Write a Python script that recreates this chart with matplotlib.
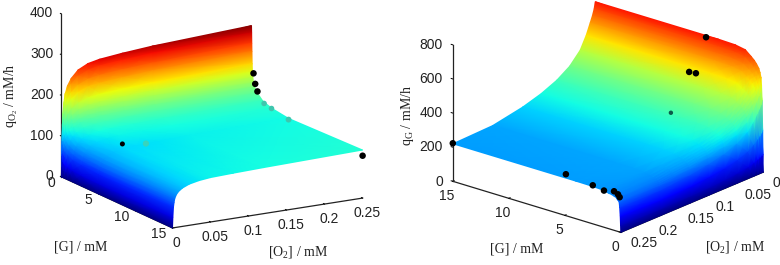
import numpy as np
import matplotlib
matplotlib.use("Agg")
from matplotlib import pyplot as plt
from mpl_toolkits.mplot3d import proj3d

plt.rcParams['font.family'] = ['Liberation Sans', 'DejaVu Sans']
plt.rcParams['mathtext.fontset'] = 'custom'
plt.rcParams['mathtext.rm'] = 'Liberation Serif'
plt.rcParams['mathtext.it'] = 'Liberation Serif'

##### Values
G_TICKS = [0, 5, 10, 15]
O2_TICKS = [0, 0.05, 0.1, 0.15, 0.2, 0.25]
O2_TICK_LABELS = ['0', '0.05', '0.1', '0.15', '0.2', '0.25']
QO2_TICKS = [0, 100, 200, 300, 400]
QG_TICKS = [0, 200, 400, 600, 800]

# left surface, rows are G, columns are O2
left_g = [0, 0.02, 0.04, 0.06, 0.09, 0.13, 0.18, 0.28, 0.4, 0.8, 1.5, 2.7, 5, 15]
left_o2 = [0, 0.0005, 0.0013, 0.002, 0.003, 0.005, 0.008, 0.013, 0.022, 0.035, 0.05, 0.08, 0.12, 0.25]
left_q = [[0, 66, 128, 155, 179, 203, 221, 238, 256, 268, 274, 280, 286, 298],
          [0, 62, 120, 146, 168, 190, 207, 224, 241, 252, 258, 263, 269, 280],
          [0, 56, 110, 133, 153, 173, 189, 204, 219, 230, 235, 240, 245, 255],
          [0, 52, 101, 122, 141, 160, 174, 188, 202, 212, 216, 221, 226, 235],
          [0, 45, 88, 107, 123, 139, 152, 164, 176, 185, 189, 193, 197, 205],
          [0, 41, 80, 96, 111, 126, 137, 148, 159, 167, 170, 174, 178, 185],
          [0, 38, 74, 89, 103, 117, 127, 138, 148, 155, 158, 162, 165, 172],
          [0, 35, 69, 83, 96, 109, 118, 128, 138, 144, 147, 150, 154, 160],
          [0, 33, 65, 79, 91, 103, 112, 121, 130, 136, 139, 142, 145, 151],
          [0, 31, 60, 72, 83, 95, 103, 111, 120, 125, 128, 131, 133, 139],
          [0, 28, 54, 66, 76, 86, 93, 101, 108, 113, 116, 118, 121, 126],
          [0, 26, 51, 61, 71, 80, 87, 94, 101, 106, 109, 111, 113, 118],
          [0, 25, 48, 58, 67, 76, 83, 90, 96, 101, 103, 105, 108, 112],
          [0, 26, 51, 61, 71, 80, 87, 94, 101, 106, 109, 111, 113, 118]]

# right surface, rows are G, columns are O2
right_g = [0, 0.02, 0.05, 0.1, 0.15, 0.2, 0.3, 0.4, 0.6, 0.8, 1.1, 1.6, 2.5, 4, 15]
right_o2 = [0, 0.002, 0.005, 0.009, 0.016, 0.0265, 0.045, 0.0675, 0.095, 0.1275, 0.18, 0.25]
right_q = [[0, 0, 0, 0, 0, 0, 0, 0, 0, 0, 0, 0],
           [105, 99, 94, 88, 79, 68, 58, 50, 44, 40, 38, 40],
           [245, 231, 219, 206, 184, 159, 135, 117, 105, 95, 90, 95],
           [420, 396, 375, 353, 315, 272, 231, 201, 180, 162, 145, 145],
           [504, 475, 450, 423, 378, 326, 277, 241, 215, 195, 175, 175],
           [553, 521, 494, 465, 415, 358, 304, 265, 235, 210, 185, 180],
           [581, 548, 519, 488, 436, 376, 320, 278, 245, 218, 190, 185],
           [602, 568, 538, 506, 452, 390, 331, 288, 255, 228, 200, 195],
           [623, 587, 556, 523, 467, 403, 343, 298, 262, 234, 205, 200],
           [640, 604, 572, 538, 480, 414, 352, 307, 270, 240, 210, 205],
           [658, 620, 588, 553, 494, 426, 362, 315, 277, 246, 214, 208],
           [686, 647, 613, 576, 515, 444, 377, 328, 289, 257, 223, 216],
           [697, 657, 622, 585, 522, 451, 383, 333, 294, 261, 227, 219],
           [700, 660, 625, 588, 525, 453, 385, 335, 295, 262, 228, 220],
           [700, 660, 625, 588, 525, 453, 385, 335, 295, 262, 228, 220]]

# measured points
left_pts_g = [0.27, 0.5, 0.8, 1.7, 2.7, 5, 15, 3.1, 3.2]
left_pts_o2 = [0.25, 0.25, 0.25, 0.25, 0.25, 0.25, 0.25, 0.05, 0.08]
left_pts_q = [183, 159, 143, 121, 117, 109, 104, 92, 85]

right_pts_g = [15, 4.9, 2.5, 1.5, 0.6, 0.25, 0.1, 5, 5.85, 5.4, 5.7]
right_pts_o2 = [0.25, 0.25, 0.25, 0.25, 0.25, 0.25, 0.25, 0.002, 0.015, 0.012, 0.05]
right_pts_q = [223, 243, 226, 215, 229, 218, 204, 694, 492, 489, 305]

# points half hidden by the surface come out faded
LEFT_COLS = ['k', 'k', 'k', '#3ec6ae', '#3ec6ae', '#3ec6ae', 'k', 'k', '#38d4bc']
LEFT_SIZES = [22, 22, 22, 16, 16, 18, 22, 13, 20]
RIGHT_COLS = ['k'] * 10 + ['#0b5c4a']
RIGHT_SIZES = [22] * 10 + [10]

FIG_W, FIG_H = 780, 265
TEXT_COL = '#222222'
TICK_SIZE = 10


def surface_mesh(ax, g, o2, q, vmax):
    # mplot3d only has flat facets, so draw the table as a gouraud mesh in projected coords
    O, G = np.meshgrid(o2, g)
    Q = np.array(q, dtype=float)
    px, py, _ = proj3d.proj_transform(G.ravel(), O.ravel(), Q.ravel(), ax.get_proj())
    px = np.reshape(px, G.shape)
    py = np.reshape(py, G.shape)
    mesh = ax.pcolormesh(px, py, Q, shading='gouraud', cmap='jet', vmin=0, vmax=vmax, zorder=1)
    mesh.do_3d_projection = lambda: 0
    return mesh


def make_axes(cx, cy, side, aspect, elev, azim, zmax):
    left = (cx - 0.5135 * side) / FIG_W
    bottom = (FIG_H - cy - 0.5135 * side) / FIG_H
    ax = fig.add_axes([left, bottom, side / FIG_W, side / FIG_H], projection='3d',
                      proj_type='ortho', computed_zorder=False)
    ax.view_init(elev=elev, azim=azim)
    ax.set_xlim(0, 15)
    ax.set_ylim(0, 0.25)
    ax.set_zlim(0, zmax)
    ax.set_box_aspect(aspect)
    ax.patch.set_alpha(0)
    ax.grid(False)
    for axis in [ax.xaxis, ax.yaxis, ax.zaxis]:
        axis.set_pane_color((1, 1, 1, 0))
        axis.pane.set_edgecolor((1, 1, 1, 0))
        axis.line.set_color(TEXT_COL)
        axis.line.set_linewidth(0.9)
        axis._axinfo['tick']['inward_factor'] = 0.0
        axis._axinfo['tick']['outward_factor'] = 0.12
        axis._axinfo['tick']['linewidth'] = {True: 0.7, False: 0.5}
        axis._axinfo['tick']['color'] = TEXT_COL
    ax.set_xticks(G_TICKS)
    ax.set_yticks(O2_TICKS)
    ax.set_yticklabels(O2_TICK_LABELS)
    ax.tick_params(labelsize=TICK_SIZE, labelcolor=TEXT_COL)
    # z axis goes on the left corner
    ax.zaxis._axinfo['juggled'] = (1, 0, 2)
    ax.zaxis.line.set_visible(False)
    return ax


fig = plt.figure(figsize=(7.8, 2.65), dpi=100)

# left panel
ax1 = make_axes(212, 106, 344, (220, 220, 169), 15.6, -30.3, 400)
ax1.set_zticks(QO2_TICKS)
ax1.plot([0, 0], [0, 0], [0, 400], color=TEXT_COL, lw=0.9, zorder=0)
surface_mesh(ax1, left_g, left_o2, left_q, 300)
ax1.scatter(left_pts_g, left_pts_o2, left_pts_q, c=LEFT_COLS, s=LEFT_SIZES, depthshade=False,
            linewidths=0, alpha=1, zorder=3)
ax1.tick_params(axis='x', pad=-4)
ax1.tick_params(axis='y', pad=-3)
ax1.tick_params(axis='z', pad=-4.5)
for lab in ax1.get_xticklabels():
    lab.set_ha('right')
    lab.set_va('center')
for lab in ax1.get_zticklabels():
    lab.set_ha('right')
    lab.set_va('center')

# right panel
ax2 = make_axes(608, 108.5, 334, (220, 220, 146), 21, 130.3, 800)
ax2.set_zticks(QG_TICKS)
ax2.plot([15, 15], [0.25, 0.25], [0, 800], color=TEXT_COL, lw=0.9, zorder=0)
surface_mesh(ax2, right_g, right_o2, right_q, 790)
ax2.scatter(right_pts_g, right_pts_o2, right_pts_q, c=RIGHT_COLS, s=RIGHT_SIZES, depthshade=False,
            linewidths=0, alpha=1, zorder=3)
ax2.tick_params(axis='x', pad=-3)
ax2.tick_params(axis='y', pad=-1)
ax2.tick_params(axis='z', pad=-4)
for lab in ax2.get_yticklabels():
    lab.set_ha('left')
    lab.set_va('center')
for lab in ax2.get_zticklabels():
    lab.set_ha('right')
    lab.set_va('center')

# axis labels
serif = {'family': ['Liberation Serif', 'DejaVu Sans'], 'fontsize': 10, 'color': TEXT_COL}
fig.text(81 / FIG_W, 1 - 247 / FIG_H, '[G] / mM', ha='center', va='center', **serif)
fig.text(298 / FIG_W, 1 - 252 / FIG_H, '[O$_2$] / mM', ha='center', va='center', **serif)
fig.text(11 / FIG_W, 1 - 96 / FIG_H, 'q$_{\\mathrm{O}_2}$ / mM/h', ha='center', va='center',
         rotation=90, **serif)
fig.text(517 / FIG_W, 1 - 249 / FIG_H, '[G] / mM', ha='center', va='center', **serif)
fig.text(735 / FIG_W, 1 - 247 / FIG_H, '[O$_2$] / mM', ha='center', va='center', **serif)
fig.text(408 / FIG_W, 1 - 116 / FIG_H, 'q$_{\\mathrm{G}}$ / mM/h', ha='center', va='center',
         rotation=90, **serif)

fig.savefig('out.png', dpi=100)
